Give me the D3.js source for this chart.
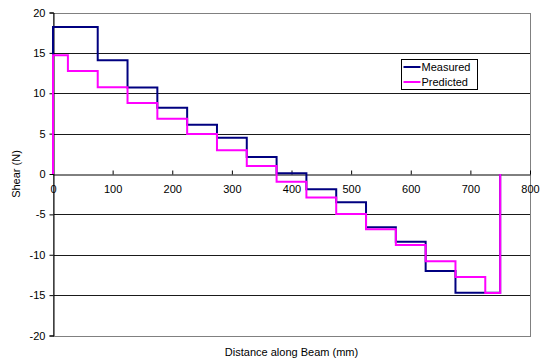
<!DOCTYPE html>
<html>
<head>
<meta charset="utf-8">
<script src="https://cdn.jsdelivr.net/npm/d3@7"></script>
<style>
  html, body { margin: 0; padding: 0; background: #fff; }
  svg text { font-family: "Liberation Sans", Arial, sans-serif; fill: #000; }
</style>
</head>
<body>
<svg id="chart" width="540" height="363"></svg>
<script>
// Shear force along the beam: step boundaries (mm) and the shear held on each step (N)
const measuredX = [0, 75, 125, 175, 225, 275, 325, 375, 425, 475, 525, 575, 625, 675, 750];
const measuredV = [18.2, 14.1, 10.7, 8.2, 6.1, 4.5, 2.1, 0.1, -1.9, -3.5, -6.6, -8.4, -12.0, -14.7];

const predictedX = [0, 25, 75, 125, 175, 225, 275, 325, 375, 425, 475, 525, 575, 625, 675, 725, 750];
const predictedV = [14.7, 12.75, 10.75, 8.8, 6.85, 4.95, 2.95, 1.0, -0.95, -2.9, -4.95, -6.85, -8.8, -10.8, -12.75, -14.75];

const xTicks = [0, 100, 200, 300, 400, 500, 600, 700, 800];
const yTicks = [-20, -15, -10, -5, 0, 5, 10, 15, 20];

const seriesNames = ["Measured", "Predicted"];
const seriesColors = ["#000080", "#ff00ff"];

const svg = d3.select("#chart");
const plotLeft = 53, plotRight = 530, plotTop = 12.5, plotBottom = 335.5;

const x = d3.scaleLinear().domain([0, 800]).range([plotLeft, plotRight]);
const y = d3.scaleLinear().domain([-20, 20]).range([plotBottom, plotTop]);

// Plain hyphen-minus for negative tick labels
const fmt = d => String(d);

// Horizontal gridlines
svg.append("g")
  .selectAll("line")
  .data(yTicks.filter(t => t !== 0 && Math.abs(t) !== 20))
  .join("line")
  .attr("x1", plotLeft).attr("x2", plotRight)
  .attr("y1", d => Math.round(y(d)) + 0.5).attr("y2", d => Math.round(y(d)) + 0.5)
  .attr("stroke", "#1a1a1a").attr("stroke-width", 1);

// Plot area frame
svg.append("rect")
  .attr("x", plotLeft + 0.5).attr("y", Math.round(plotTop) + 0.5)
  .attr("width", plotRight - plotLeft).attr("height", Math.round(plotBottom) - Math.round(plotTop))
  .attr("fill", "none").attr("stroke", "#808080").attr("stroke-width", 1);

// Y axis
const yAxis = d3.axisLeft(y).tickValues(yTicks).tickSize(4).tickPadding(4).tickFormat(fmt);
const gy = svg.append("g").attr("transform", `translate(${plotLeft + 0.5},0)`).call(yAxis);
gy.select(".domain").attr("stroke", "#000");
gy.selectAll(".tick line").attr("stroke", "#000");
gy.selectAll(".tick text").attr("font-size", 11).attr("fill", "#000")
  .attr("font-family", "Liberation Sans, Arial, sans-serif");

// X axis through zero shear
const y0 = Math.round(y(0)) + 0.5;
const xAxis = d3.axisBottom(x).tickValues(xTicks).tickSize(0).tickPadding(11).tickFormat(fmt);
const gx = svg.append("g").attr("transform", `translate(0,${y0})`).call(xAxis);
gx.select(".domain").attr("stroke", "#000");
gx.selectAll(".tick text").attr("font-size", 11).attr("fill", "#000")
  .attr("font-family", "Liberation Sans, Arial, sans-serif");
gx.selectAll(".tick").append("line")
  .attr("y1", -4).attr("y2", 0).attr("stroke", "#000");

// Step series: rise from zero at the start, return to zero at the end
function stepPoints(xs, vs) {
  const pts = [[xs[0], 0]];
  vs.forEach((v, i) => pts.push([xs[i], v]));
  pts.push([xs[xs.length - 1], 0]);
  return pts;
}
const line = d3.line()
  .x(d => x(d[0])).y(d => y(d[1]))
  .curve(d3.curveStepAfter);

const series = [stepPoints(measuredX, measuredV), stepPoints(predictedX, predictedV)];
svg.append("g")
  .selectAll("path")
  .data(series)
  .join("path")
  .attr("d", line)
  .attr("fill", "none")
  .attr("stroke", (d, i) => seriesColors[i])
  .attr("stroke-width", 2)
  .attr("stroke-linejoin", "miter");

// Axis titles
svg.append("text")
  .attr("x", (plotLeft + plotRight) / 2).attr("y", 356)
  .attr("text-anchor", "middle").attr("font-size", 11)
  .text("Distance along Beam (mm)");
svg.append("text")
  .attr("transform", `translate(20,${y(0)}) rotate(-90)`)
  .attr("text-anchor", "middle").attr("font-size", 11)
  .text("Shear (N)");

// Legend
const lg = svg.append("g").attr("transform", "translate(401.5,59.5)");
lg.append("rect").attr("width", 76).attr("height", 30)
  .attr("fill", "#fff").attr("stroke", "#000").attr("stroke-width", 1);
seriesNames.forEach((name, i) => {
  const ly = 7.5 + i * 15;
  lg.append("line").attr("x1", 2).attr("x2", 19).attr("y1", ly).attr("y2", ly)
    .attr("stroke", seriesColors[i]).attr("stroke-width", 2);
  lg.append("text").attr("x", 20).attr("y", ly + 4).attr("font-size", 11).text(name);
});
</script>
</body>
</html>
